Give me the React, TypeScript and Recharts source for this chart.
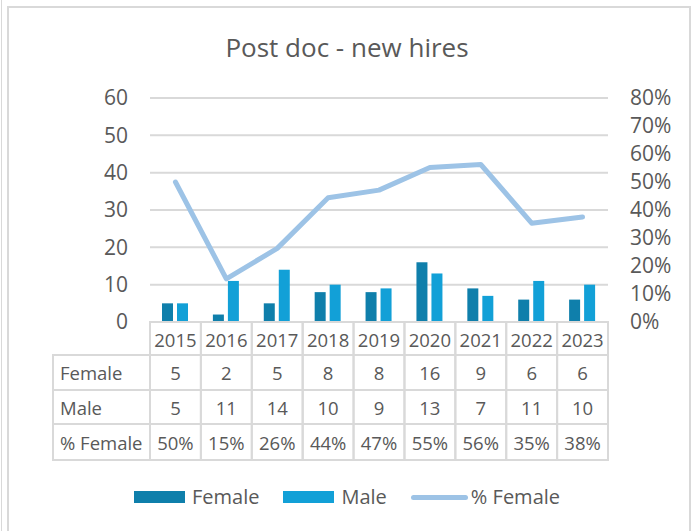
import {
  ComposedChart,
  Bar,
  Line,
  XAxis,
  YAxis,
  CartesianGrid,
} from 'recharts';

const years = ['2015', '2016', '2017', '2018', '2019', '2020', '2021', '2022', '2023'];
const female = [5, 2, 5, 8, 8, 16, 9, 6, 6];
const male = [5, 11, 14, 10, 9, 13, 7, 11, 10];
const pctFemale = [0.5, 0.154, 0.263, 0.444, 0.471, 0.552, 0.5625, 0.353, 0.375];
const pctLabels = ['50%', '15%', '26%', '44%', '47%', '55%', '56%', '35%', '38%'];
const leftTicks = [0, 10, 20, 30, 40, 50, 60];
const rightTicks = [0, 0.1, 0.2, 0.3, 0.4, 0.5, 0.6, 0.7, 0.8];

const FEMALE_COLOR = '#0F7FAB';
const MALE_COLOR = '#12A0D7';
const PCT_COLOR = '#9DC3E6';
const TEXT = '#595959';
const GRID = '#D9D9D9';
const FONT = '"Open Sans", sans-serif';

const data = years.map((y, i) => ({
  year: y,
  female: female[i],
  male: male[i],
  pct: pctFemale[i],
}));

// table rows under the axis (label, values)
const tableRows = [
  { label: 'Female', values: female.map(String) },
  { label: 'Male', values: male.map(String) },
  { label: '% Female', values: pctLabels },
];
const rowEdges = [33, 68, 102, 138];
const labelColW = 97;
const TABLE_FS = 18.5;

// x axis tick draws the header cell and the table column below it
const TableTick = (props: any) => {
  const { x, y, payload, width, visibleTicksCount } = props;
  const colW = width && visibleTicksCount ? width / visibleTicksCount : 50.9;
  const x0 = x - colW / 2;
  const i = payload.index;
  return (
    <g>
      <rect x={x0} y={y} width={colW} height={rowEdges[0]} fill="none" stroke={GRID} strokeWidth={2} />
      <text x={x} y={y + 17} textAnchor="middle" dominantBaseline="central" fill={TEXT} fontSize={TABLE_FS} fontFamily={FONT}>
        {payload.value}
      </text>
      {tableRows.map((r, k) => (
        <g key={k}>
          <rect
            x={x0}
            y={y + rowEdges[k]}
            width={colW}
            height={rowEdges[k + 1] - rowEdges[k]}
            fill="none"
            stroke={GRID}
            strokeWidth={2}
          />
          <text
            x={x}
            y={y + (rowEdges[k] + rowEdges[k + 1]) / 2}
            textAnchor="middle"
            dominantBaseline="central"
            fill={TEXT}
            fontSize={TABLE_FS}
            fontFamily={FONT}
          >
            {r.values[i]}
          </text>
          {i === 0 && (
            <>
              <rect
                x={x0 - labelColW}
                y={y + rowEdges[k]}
                width={labelColW}
                height={rowEdges[k + 1] - rowEdges[k]}
                fill="none"
                stroke={GRID}
                strokeWidth={2}
              />
              <text
                x={x0 - labelColW + 7}
                y={y + (rowEdges[k] + rowEdges[k + 1]) / 2}
                textAnchor="start"
                dominantBaseline="central"
                fill={TEXT}
                fontSize={TABLE_FS}
                fontFamily={FONT}
              >
                {r.label}
              </text>
            </>
          )}
        </g>
      ))}
    </g>
  );
};

const legendItems = [
  { name: 'Female', color: FEMALE_COLOR, type: 'bar' },
  { name: 'Male', color: MALE_COLOR, type: 'bar' },
  { name: '% Female', color: PCT_COLOR, type: 'line' },
];

export default function App() {
  return (
    <div
      style={{
        position: 'absolute',
        left: 0,
        top: 0,
        width: 694,
        height: 531,
        background: '#fff',
        overflow: 'hidden',
        fontFamily: FONT,
      }}
    >
      <div style={{ position: 'absolute', left: 1, top: 0, width: 1, height: 531, background: GRID }} />
      <div
        style={{
          position: 'absolute',
          left: 7,
          top: 6,
          width: 680,
          height: 540,
          border: `2px solid ${GRID}`,
        }}
      />
      <div
        style={{
          position: 'absolute',
          left: 0,
          top: 30,
          width: 694,
          textAlign: 'center',
          fontSize: 26,
          color: TEXT,
          lineHeight: '34px',
        }}
      >
        Post doc - new hires
      </div>
      <div style={{ position: 'absolute', left: 0, top: 0 }}>
        <ComposedChart
          width={694}
          height={531}
          data={data}
          margin={{ top: 98, right: 0, bottom: 0, left: 0 }}
          barGap={4}
          barSize={11}
        >
          <CartesianGrid yAxisId="left" vertical={false} stroke={GRID} strokeWidth={2} />
          <XAxis
            dataKey="year"
            height={209}
            axisLine={false}
            tickLine={false}
            tickSize={0}
            tickMargin={0}
            interval={0}
            tick={<TableTick />}
          />
          <YAxis
            yAxisId="left"
            orientation="left"
            width={150}
            domain={[0, 60]}
            ticks={leftTicks}
            interval={0}
            axisLine={false}
            tickLine={false}
            tickSize={0}
            tickMargin={22}
            tick={{ fill: TEXT, fontSize: 21, fontFamily: FONT }}
          />
          <YAxis
            yAxisId="right"
            orientation="right"
            width={86}
            domain={[0, 0.8]}
            ticks={rightTicks}
            interval={0}
            tickFormatter={(v: number) => `${Math.round(v * 100)}%`}
            axisLine={false}
            tickLine={false}
            tickSize={0}
            tickMargin={22}
            tick={{ fill: TEXT, fontSize: 21, fontFamily: FONT }}
          />
          <Bar yAxisId="left" dataKey="female" name="Female" fill={FEMALE_COLOR} isAnimationActive={false} />
          <Bar yAxisId="left" dataKey="male" name="Male" fill={MALE_COLOR} isAnimationActive={false} />
          <Line
            yAxisId="right"
            type="linear"
            dataKey="pct"
            name="% Female"
            stroke={PCT_COLOR}
            strokeWidth={5}
            strokeLinecap="round"
            strokeLinejoin="round"
            dot={false}
            activeDot={false}
            isAnimationActive={false}
          />
        </ComposedChart>
      </div>
      <div
        style={{
          position: 'absolute',
          left: 0,
          top: 483,
          width: 694,
          display: 'flex',
          justifyContent: 'center',
          alignItems: 'center',
          gap: 24,
          fontSize: 20,
          color: TEXT,
          lineHeight: '28px',
        }}
      >
        {legendItems.map((it) => (
          <div key={it.name} style={{ display: 'flex', alignItems: 'center', gap: it.type === 'bar' ? 7 : 3 }}>
            {it.type === 'bar' ? (
              <span style={{ display: 'inline-block', width: 51, height: 12, background: it.color }} />
            ) : (
              <span style={{ display: 'inline-block', width: 57, height: 5, borderRadius: 3, background: it.color }} />
            )}
            <span>{it.name}</span>
          </div>
        ))}
      </div>
    </div>
  );
}
